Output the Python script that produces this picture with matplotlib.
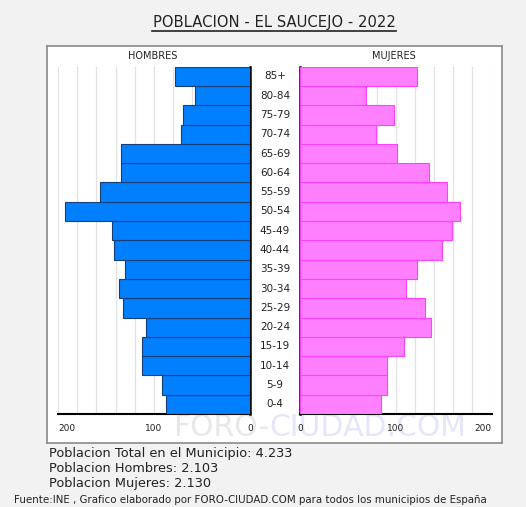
import matplotlib.pyplot as plt

# datos
edades = ['0-4', '5-9', '10-14', '15-19', '20-24', '25-29', '30-34', '35-39', '40-44',
          '45-49', '50-54', '55-59', '60-64', '65-69', '70-74', '75-79', '80-84', '85+']
hombres = [88, 92, 112, 112, 108, 132, 136, 130, 142, 144, 193, 156, 134, 134, 72, 70, 57, 78]
mujeres = [85, 91, 91, 109, 137, 131, 111, 122, 148, 159, 167, 154, 135, 101, 79, 98, 69, 122]
ticks = [200, 100, 0]
titulo = 'POBLACION - EL SAUCEJO - 2022'
total, total_h, total_m = '4.233', '2.103', '2.130'

W, H = 526, 507
fig = plt.figure(figsize=(W / 100, H / 100), dpi=100, facecolor='#f2f2f2')

# caja blanca (ejes de fondo)
caja = fig.add_axes([47 / W, 1 - 443 / H, (502 - 47) / W, (443 - 46) / H], zorder=-1)
caja.set_facecolor('white')
caja.set_xticks([])
caja.set_yticks([])
for s in caja.spines.values():
    s.set_color('#8a8a8a')
    s.set_linewidth(1.2)

# marca de agua (debajo de todo)
caja.text(269 / W, 1 - 428 / H, 'FORO-', ha='right', va='center', fontsize=21.5,
          color='#e8e8e8', transform=fig.transFigure)
caja.text(269 / W, 1 - 428 / H, 'CIUDAD.COM', ha='left', va='center', fontsize=21.5,
          color='#e6e6fa', transform=fig.transFigure)

bottom = 1 - 414 / H
height = (414 - 66.7) / H
ax_h = fig.add_axes([58 / W, bottom, 192 / W, height])
ax_m = fig.add_axes([300 / W, bottom, 191.5 / W, height])

y = range(len(edades))
ax_h.barh(y, hombres, height=1.0, color='#0080ff', edgecolor='#163f78', linewidth=0.8, zorder=3)
ax_m.barh(y, mujeres, height=1.0, color='#ff80ff', edgecolor='#ff40ff', linewidth=0.8, zorder=3)

for ax in (ax_h, ax_m):
    ax.set_facecolor('none')
    ax.set_ylim(-0.5, len(edades) - 0.5)
    ax.set_yticks([])
    ax.set_xticks([])
    for x in range(20, 201, 20):
        ax.axvline(x, color='#e2e2e2', linewidth=0.9, zorder=1)
    for s in ax.spines.values():
        s.set_visible(False)
    ax.spines['bottom'].set_visible(True)
    ax.spines['bottom'].set_linewidth(1.5)

ax_h.set_xlim(200, 0)
ax_m.set_xlim(0, 200)
ax_h.spines['right'].set_visible(True)
ax_h.spines['right'].set_linewidth(1.8)
ax_m.spines['left'].set_visible(True)
ax_m.spines['left'].set_linewidth(1.8)

# etiquetas del eje x
al_h = {200: 'left', 100: 'center', 0: 'center'}
al_m = {200: 'right', 100: 'center', 0: 'center'}
for t in ticks:
    ax_h.text(t, -1.25, str(t), ha=al_h[t], va='center', fontsize=6.5, color='#222222', zorder=5)
    ax_m.text(t, -1.25, str(t), ha=al_m[t], va='center', fontsize=6.5, color='#222222', zorder=5)

# edades en el centro
for i, e in enumerate(edades):
    fig.text(275 / W, ax_h.transData.transform((0, i))[1] / H, e, ha='center', va='center',
             fontsize=7.5, color='#222222')

fig.text(153 / W, 1 - 56 / H, 'HOMBRES', ha='center', va='center', fontsize=7, color='#222222')
fig.text(394 / W, 1 - 56 / H, 'MUJERES', ha='center', va='center', fontsize=7, color='#222222')

# titulo subrayado
fig.text(274 / W, 1 - 22 / H, titulo, ha='center', va='center', fontsize=10.6, color='#222222')
fig.add_artist(plt.Line2D([152 / W, 396 / W], [1 - 31 / H, 1 - 31 / H], color='#222222',
                          linewidth=1.2, transform=fig.transFigure))

fig.text(49 / W, 1 - 453 / H, 'Poblacion Total en el Municipio: ' + total, ha='left', va='center',
         fontsize=9.3, color='#222222')
fig.text(49 / W, 1 - 468 / H, 'Poblacion Hombres: ' + total_h, ha='left', va='center',
         fontsize=9.3, color='#222222')
fig.text(49 / W, 1 - 483 / H, 'Poblacion Mujeres: ' + total_m, ha='left', va='center',
         fontsize=9.3, color='#222222')
fig.text(14 / W, 1 - 500 / H,
         'Fuente:INE , Grafico elaborado por FORO-CIUDAD.COM para todos los municipios de España',
         ha='left', va='center', fontsize=7.4, color='#222222')

fig.savefig('out.png', dpi=100, facecolor=fig.get_facecolor())
